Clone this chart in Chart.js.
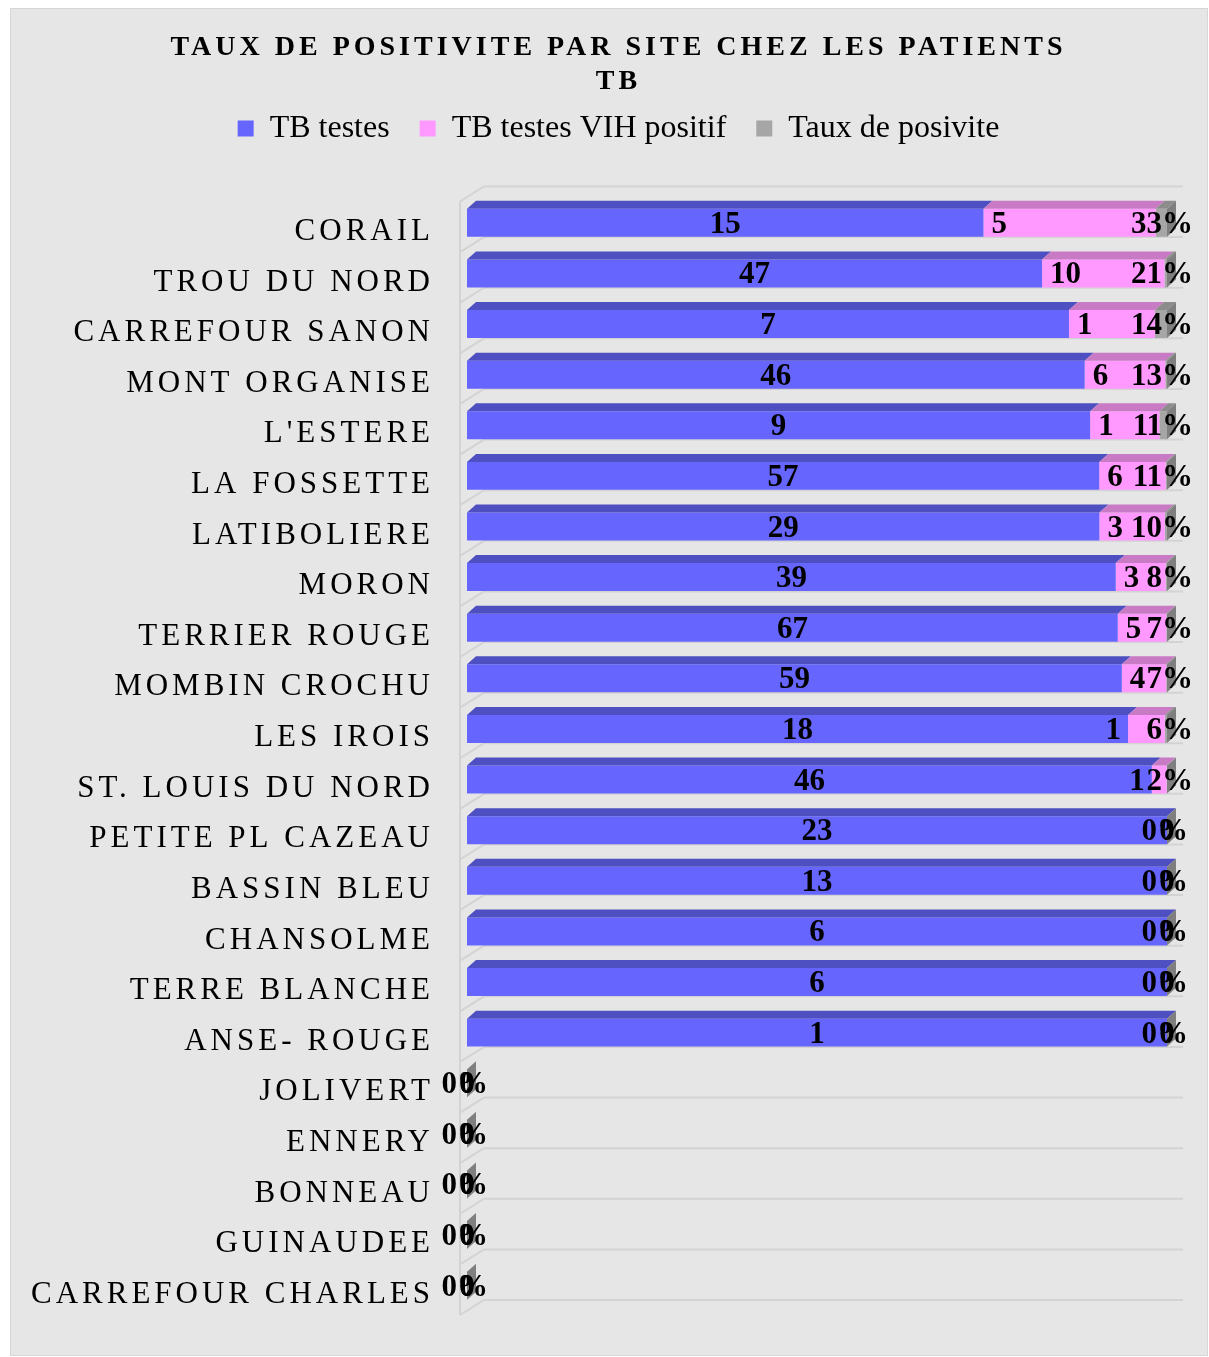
<!DOCTYPE html>
<html>
<head>
<meta charset="utf-8">
<title>Taux de positivite par site</title>
<script src="https://cdn.jsdelivr.net/npm/chart.js@4.4.1/dist/chart.umd.min.js"></script>
<style>
    html, body { margin: 0; padding: 0; background: #ffffff; }
    #wrap {
        position: absolute; left: 10px; top: 8px;
        width: 1196px; height: 1346px;
        background: #e6e6e6; border: 1px solid #d6d6d6;
    }
</style>
</head>
<body>
<div id="wrap"><canvas id="tbChart"></canvas></div>
<script>
// Sites, top to bottom
const sites = [
    'CORAIL', 'TROU DU NORD', 'CARREFOUR SANON', 'MONT ORGANISE', "L'ESTERE",
    'LA FOSSETTE', 'LATIBOLIERE', 'MORON', 'TERRIER ROUGE', 'MOMBIN CROCHU',
    'LES IROIS', 'ST. LOUIS DU NORD', 'PETITE PL CAZEAU', 'BASSIN BLEU', 'CHANSOLME',
    'TERRE BLANCHE', 'ANSE- ROUGE', 'JOLIVERT', 'ENNERY', 'BONNEAU',
    'GUINAUDEE', 'CARREFOUR CHARLES'
];
const tbTestes = [15, 47, 7, 46, 9, 57, 29, 39, 67, 59, 18, 46, 23, 13, 6, 6, 1, 0, 0, 0, 0, 0];
const tbVihPositif = [5, 10, 1, 6, 1, 6, 3, 3, 5, 4, 1, 1, 0, 0, 0, 0, 0, 0, 0, 0, 0, 0];
const tauxPositivite = [33, 21, 14, 13, 11, 11, 10, 8, 7, 7, 6, 2, 0, 0, 0, 0, 0, 0, 0, 0, 0, 0]; // %

const SERIF = "'Liberation Serif', 'Times New Roman', serif";
const DX = 9;   // 3D depth, px to the right
const DY = 8;   // 3D depth, px up

// 100% stacked: each row is split by its own total (rate counted as a fraction)
const rowTotals = sites.map((s, i) => tbTestes[i] + tbVihPositif[i] + tauxPositivite[i] / 100);
function toShare(values) {
    return values.map((v, i) => rowTotals[i] ? (v / rowTotals[i]) * 100 : 0);
}

// Letter spacing for the title and category labels (canvas ctx.letterSpacing)
function addSpacing(obj, method, spacing) {
    if (!obj || obj['_spaced_' + method]) return;
    const original = obj[method];
    obj[method] = function (...args) {
        const ctx = this.ctx;
        ctx.save();
        ctx.letterSpacing = spacing;
        original.apply(this, args);
        ctx.restore();
    };
    obj['_spaced_' + method] = true;
}

const spacingPlugin = {
    id: 'spacing',
    beforeDraw(chart) {
        const y = chart.scales.y;
        // let the long site names run into the left padding instead of being clipped
        y._computeLabelArea = () => ({ top: 0, left: 0, bottom: chart.height, right: y.right });
        addSpacing(y, 'drawLabels', '4px');
        addSpacing(chart.titleBlock, 'draw', '4px');
    }
};

// Excel-like 3D look: back wall lines, top faces, side face, value labels
const bars3dPlugin = {
    id: 'bars3d',
    beforeDatasetsDraw(chart) {
        const { ctx, chartArea: a } = chart;
        const pitch = (a.bottom - a.top) / sites.length;
        ctx.save();
        ctx.strokeStyle = '#d3d3d3';
        ctx.lineWidth = 2;
        ctx.beginPath();
        ctx.moveTo(a.left - 7, a.top + 4);
        ctx.lineTo(a.left - 7, a.bottom + 4);
        for (let k = 0; k <= sites.length; k++) {
            const yb = a.top + k * pitch;
            ctx.moveTo(a.left - 7, yb + 4);
            ctx.lineTo(a.left + 17, yb - 11);
            ctx.lineTo(a.right + 16, yb - 11);
        }
        ctx.stroke();
        ctx.restore();
    },
    afterDatasetsDraw(chart) {
        const { ctx } = chart;
        const n = chart.data.datasets.length;
        ctx.save();

        // top faces
        for (let d = 0; d < n; d++) {
            const ds = chart.data.datasets[d];
            chart.getDatasetMeta(d).data.forEach(bar => {
                const { x, y, base, height } = bar.getProps(['x', 'y', 'base', 'height'], true);
                if (x - base < 0.5) return;
                const top = y - height / 2;
                ctx.fillStyle = ds.topColor;
                ctx.beginPath();
                ctx.moveTo(base, top);
                ctx.lineTo(base + DX, top - DY);
                ctx.lineTo(x + DX, top - DY);
                ctx.lineTo(x, top);
                ctx.closePath();
                ctx.fill();
            });
        }

        // right side face at the end of each stack
        chart.getDatasetMeta(n - 1).data.forEach(bar => {
            const { x, y, height } = bar.getProps(['x', 'y', 'height'], true);
            const top = y - height / 2;
            const bottom = y + height / 2;
            ctx.fillStyle = '#7f7f7f';
            ctx.beginPath();
            ctx.moveTo(x, top);
            ctx.lineTo(x + DX, top - DY);
            ctx.lineTo(x + DX, bottom - DY);
            ctx.lineTo(x, bottom);
            ctx.closePath();
            ctx.fill();
        });

        // value labels
        ctx.font = 'bold 31px ' + SERIF;
        ctx.fillStyle = '#000000';
        ctx.textBaseline = 'middle';
        const LY = 2;

        chart.getDatasetMeta(0).data.forEach((bar, i) => {
            const { x, y, base } = bar.getProps(['x', 'y', 'base'], true);
            ctx.textAlign = 'center';
            ctx.fillText(String(tbTestes[i]), (x + base) / 2, y + LY);
        });

        chart.getDatasetMeta(1).data.forEach((bar, i) => {
            const { x, y, base } = bar.getProps(['x', 'y', 'base'], true);
            const w = x - base;
            if (!tbVihPositif[i]) {
                ctx.textAlign = 'center';
                ctx.fillText('0', base, y + LY);
            } else if (w >= 40) {
                ctx.textAlign = 'left';
                ctx.fillText(String(tbVihPositif[i]), base + 8, y + LY);
            } else {
                ctx.textAlign = 'right';
                ctx.fillText(String(tbVihPositif[i]), base - 7, y + LY);
            }
        });

        chart.getDatasetMeta(2).data.forEach((bar, i) => {
            const { x, y } = bar.getProps(['x', 'y'], true);
            ctx.textAlign = 'right';
            ctx.fillText(tauxPositivite[i] + '%', x + (tauxPositivite[i] ? 26 : 21), y + LY);
        });

        ctx.restore();
    }
};

function initializePositivityChart() {
    const ctx = document.getElementById('tbChart');
    if (!ctx) return;

    new Chart(ctx, {
        type: 'bar',
        data: {
            labels: sites,
            datasets: [
                {
                    label: 'TB testes',
                    data: toShare(tbTestes),
                    backgroundColor: '#6666ff',
                    topColor: '#4e4fc0',
                    borderWidth: 0
                },
                {
                    label: 'TB testes VIH positif',
                    data: toShare(tbVihPositif),
                    backgroundColor: '#ff99ff',
                    topColor: '#c97ac4',
                    borderWidth: 0
                },
                {
                    label: 'Taux de posivite',
                    data: toShare(tauxPositivite.map(v => v / 100)),
                    backgroundColor: '#a6a6a6',
                    topColor: '#8c8c8c',
                    borderWidth: 0
                }
            ]
        },
        options: {
            indexAxis: 'y',
            responsive: true,
            maintainAspectRatio: false,
            animation: false,
            datasets: {
                bar: {
                    categoryPercentage: 1,
                    barPercentage: 0.553
                }
            },
            layout: {
                padding: { left: 59, right: 40, top: 0, bottom: 44 }
            },
            plugins: {
                title: {
                    display: true,
                    text: ['TAUX DE POSITIVITE PAR SITE CHEZ LES PATIENTS', 'TB'],
                    color: '#000000',
                    font: { size: 28, weight: 'bold', family: SERIF, lineHeight: '34px' },
                    padding: { top: 22, bottom: -16.5 }
                },
                legend: {
                    position: 'top',
                    labels: {
                        color: '#000000',
                        boxWidth: 16,
                        boxHeight: 16,
                        padding: 30,
                        font: { size: 32, family: SERIF }
                    }
                },
                tooltip: {
                    callbacks: {
                        label: function (context) {
                            const i = context.dataIndex;
                            const raw = [tbTestes, tbVihPositif, tauxPositivite][context.datasetIndex][i];
                            return context.dataset.label + ': ' + raw + (context.datasetIndex === 2 ? '%' : '');
                        }
                    }
                }
            },
            scales: {
                x: {
                    type: 'linear',
                    position: 'top',
                    stacked: true,
                    min: 0,
                    max: 100,
                    grid: { display: false },
                    border: { display: false },
                    ticks: { display: false },
                    afterFit: function (scale) { scale.height = 43; }
                },
                y: {
                    stacked: true,
                    grid: { display: false },
                    border: { display: false },
                    ticks: {
                        color: '#000000',
                        padding: 25,
                        labelOffset: 9,
                        font: { size: 31, family: SERIF }
                    },
                    afterFit: function (scale) { scale.width = 397; }
                }
            }
        },
        plugins: [spacingPlugin, bars3dPlugin]
    });
}

document.addEventListener('DOMContentLoaded', initializePositivityChart);
</script>
</body>
</html>
